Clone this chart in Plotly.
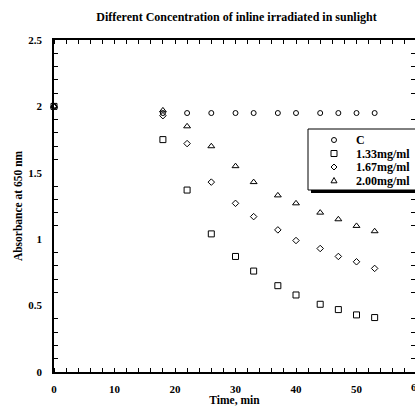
import plotly.graph_objects as go

time_min = [0, 18, 22, 26, 30, 33, 37, 40, 44, 47, 50, 53]
series_names = ["C", "1.33mg/ml", "1.67mg/ml", "2.00mg/ml"]
abs_c = [2.00, 1.95, 1.95, 1.95, 1.95, 1.95, 1.95, 1.95, 1.95, 1.95, 1.95, 1.95]
abs_133 = [2.00, 1.75, 1.37, 1.04, 0.87, 0.76, 0.65, 0.58, 0.51, 0.47, 0.43, 0.41]
abs_167 = [2.00, 1.93, 1.72, 1.43, 1.27, 1.17, 1.07, 0.99, 0.93, 0.87, 0.83, 0.78]
abs_200 = [2.00, 1.97, 1.85, 1.70, 1.55, 1.43, 1.33, 1.27, 1.20, 1.15, 1.10, 1.06]
x_ticks = [0, 10, 20, 30, 40, 50, 60]

symbols = ["circle-open", "square-open", "diamond-open", "triangle-up-open"]
sizes = [5, 6, 5, 6]
values = [abs_c, abs_133, abs_167, abs_200]

FONT = "Liberation Serif"
W, H = 415, 406
ML, MR, MT, MB = 54, 0, 40, 34
PW, PH = W - ML - MR, H - MT - MB
px_per_min = 6.05
xmax = PW / px_per_min


def px_x(px):
    return (px - ML) / PW


def px_y(py):
    return (H - MB - py) / PH


fig = go.Figure()
for name, vals, sym, sz in zip(series_names, values, symbols, sizes):
    fig.add_trace(go.Scatter(
        x=time_min, y=vals, mode="markers", name=name,
        marker=dict(symbol=sym, size=sz, color="black", line=dict(width=1, color="black")),
        cliponaxis=False, showlegend=False,
    ))

axis_common = dict(
    showline=True, linecolor="black", linewidth=1.5, mirror="ticks",
    showgrid=False, zeroline=False, ticks="",
    tickfont=dict(family=FONT, size=11, color="black", weight="bold"),
)

fig.update_layout(
    width=W, height=H,
    margin=dict(l=ML, r=MR, t=MT, b=MB, autoexpand=False),
    paper_bgcolor="white", plot_bgcolor="white",
    title=dict(text="Different Concentration of inline irradiated in sunlight",
               x=236.5 / W, xanchor="center", y=1 - 17 / H, yanchor="middle",
               font=dict(family=FONT, size=12, color="black", weight="bold")),
    xaxis=dict(range=[0, xmax], tickvals=x_ticks[:-1], ticklabelstandoff=6,
               minor=dict(dtick=2, ticks="inside", ticklen=4, tickcolor="black", tickwidth=1),
               title=dict(text="Time, min", standoff=5,
                          font=dict(family=FONT, size=11.5, color="black", weight="bold")),
               **axis_common),
    yaxis=dict(range=[0, 2.5], dtick=0.5, ticklabelstandoff=8,
               minor=dict(dtick=0.1, ticks="inside", ticklen=4, tickcolor="black", tickwidth=1),
               title=dict(text="Absorbance at 650 nm", standoff=3,
                          font=dict(family=FONT, size=11.5, color="black", weight="bold")),
               **axis_common),
    showlegend=False,
)

fig.add_annotation(text=str(x_ticks[-1]), xref="paper", yref="paper",
                   x=x_ticks[-1] / xmax, y=0, yanchor="top", yshift=-7, xshift=8,
                   showarrow=False,
                   font=dict(family=FONT, size=11, color="black", weight="bold"))

# legend box (with drop shadow), drawn as layout decoration
box_l, box_t, box_r, box_b = 308, 129, 425, 190
fig.add_shape(type="rect", xref="paper", yref="paper",
              x0=px_x(box_l + 3), x1=px_x(box_r + 3), y0=px_y(box_b + 3), y1=px_y(box_t + 3),
              line=dict(width=0), fillcolor="black", layer="above")
fig.add_shape(type="rect", xref="paper", yref="paper",
              x0=px_x(box_l), x1=px_x(box_r), y0=px_y(box_b), y1=px_y(box_t),
              line=dict(width=1, color="black"), fillcolor="white", layer="above")

sym_x, text_x = 334, 354
row_y = [140, 153.5, 167, 180.5]
r = 2.5
sym_paths = [
    None,
    None,
    "M 0,3 L 3,0 L 0,-3 L -3,0 Z",
    "M -3,-2.3 L 3,-2.3 L 0,3 Z",
]
for i, (name, ry) in enumerate(zip(series_names, row_y)):
    common = dict(xref="paper", yref="paper", xsizemode="pixel", ysizemode="pixel",
                  xanchor=px_x(sym_x), yanchor=px_y(ry),
                  line=dict(width=1, color="black"), fillcolor="white", layer="above")
    if i == 0:
        fig.add_shape(type="circle", x0=-r, x1=r, y0=-r, y1=r, **common)
    elif i == 1:
        fig.add_shape(type="rect", x0=-3, x1=3, y0=-3, y1=3, **common)
    else:
        fig.add_shape(type="path", path=sym_paths[i], **common)
    fig.add_annotation(text=name, xref="paper", yref="paper", x=px_x(text_x), y=px_y(ry),
                       xanchor="left", yanchor="middle", showarrow=False,
                       font=dict(family=FONT, size=12, color="black", weight="bold"))

fig.write_html("out.html", config={"displayModeBar": False},
               post_script="document.body.style.margin='0';")
